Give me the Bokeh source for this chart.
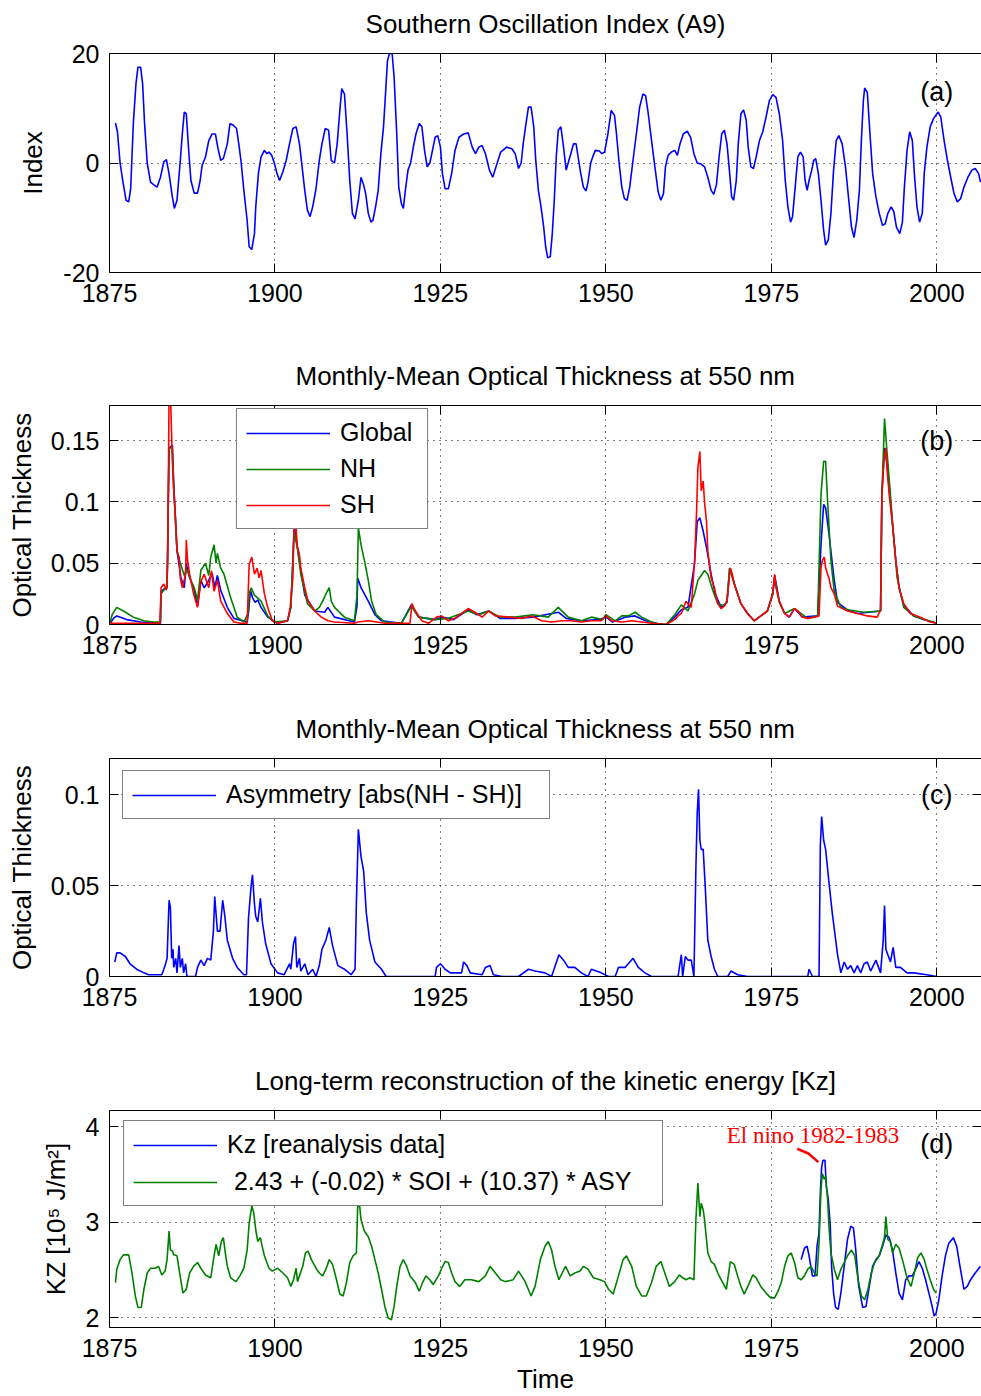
from bokeh.plotting import figure
from bokeh.layouts import column
from bokeh.models import (Range1d, LinearAxis, FixedTicker, Legend, LegendItem,
                          Label, CustomJSTickFormatter, Grid, CustomLabelingPolicy)
from bokeh.embed import file_html
from bokeh.resources import INLINE

FONT = "Liberation Sans"

# ---------------- data ----------------
X_TICKS = [1875, 1900, 1925, 1950, 1975, 2000]
X_GRID = [1900, 1925, 1950, 1975, 2000]

# (a) Southern Oscillation Index (year, index)
SOI = [
    (1875.9, 7.3), (1876.2, 5.7), (1876.6, 0.0), (1877.0, -3.2), (1877.5, -6.8),
    (1877.9, -7.1), (1878.2, -4.7), (1878.6, 7.2), (1879.0, 14.5), (1879.3, 17.5),
    (1879.7, 17.5), (1880.0, 14.5), (1880.3, 7.2), (1880.7, 0.0), (1881.2, -3.5),
    (1881.7, -4.0), (1882.2, -4.4), (1882.7, -2.6), (1883.2, 0.2), (1883.6, 0.6),
    (1884.0, -2.0), (1884.5, -6.2), (1884.8, -8.3), (1885.2, -6.8), (1885.7, 0.5),
    (1886.0, 5.3), (1886.3, 9.3), (1886.6, 9.0), (1887.0, 1.7), (1887.3, -3.2),
    (1887.8, -5.5), (1888.3, -5.5), (1888.7, -3.2), (1889.0, -0.4), (1889.5, 1.1),
    (1890.0, 4.1), (1890.5, 5.3), (1891.0, 5.3), (1891.4, 2.6), (1891.8, 0.5),
    (1892.2, 0.8), (1892.8, 3.5), (1893.2, 7.2), (1893.7, 6.9), (1894.2, 6.3),
    (1894.6, 2.9), (1894.9, 0.0), (1895.3, -5.0), (1895.8, -10.5), (1896.1, -15.3),
    (1896.5, -15.8), (1896.9, -12.9), (1897.1, -8.0), (1897.5, -1.9), (1897.9, 1.1),
    (1898.4, 2.3), (1898.8, 1.7), (1899.1, 2.0), (1899.5, 1.4), (1899.9, 0.0),
    (1900.3, -1.9), (1900.7, -3.2), (1901.2, -1.6), (1901.7, 0.5), (1902.2, 3.5),
    (1902.7, 6.3), (1903.2, 6.6), (1903.7, 3.5), (1904.1, -0.7), (1904.5, -5.0),
    (1904.9, -8.6), (1905.3, -9.8), (1905.7, -8.0), (1906.2, -4.7), (1906.7, 0.5),
    (1907.1, 3.5), (1907.6, 6.3), (1908.1, 6.0), (1908.5, 0.5), (1909.0, 0.0),
    (1909.4, 3.5), (1909.8, 9.6), (1910.1, 13.6), (1910.5, 12.6), (1910.9, 5.3),
    (1911.3, -3.2), (1911.7, -9.2), (1912.1, -10.2), (1912.6, -6.8), (1913.0, -2.6),
    (1913.4, -4.0), (1913.7, -5.6), (1914.1, -9.2), (1914.5, -10.8), (1914.8, -10.5),
    (1915.2, -8.0), (1915.6, -5.0), (1916.0, 1.7), (1916.4, 6.6), (1916.7, 12.6),
    (1917.0, 18.7), (1917.3, 20.0), (1917.7, 20.0), (1918.0, 15.7), (1918.4, 5.3),
    (1918.7, -4.4), (1919.1, -7.4), (1919.4, -8.3), (1919.7, -5.0), (1920.1, -1.3),
    (1920.5, 0.0), (1920.9, 2.9), (1921.3, 5.3), (1921.8, 7.2), (1922.2, 6.6),
    (1922.6, 2.3), (1923.0, -0.7), (1923.4, 0.0), (1923.8, 2.3), (1924.2, 4.7),
    (1924.6, 5.0), (1925.0, 2.9), (1925.3, -1.9), (1925.7, -4.7), (1926.2, -4.7),
    (1926.7, -1.9), (1927.2, 2.3), (1927.8, 4.7), (1928.5, 5.3), (1929.2, 5.5),
    (1929.8, 2.9), (1930.3, 1.7), (1930.8, 2.9), (1931.3, 3.2), (1931.8, 1.7),
    (1932.4, -1.3), (1932.9, -2.6), (1933.4, -0.7), (1934.1, 2.0), (1935.0, 2.9),
    (1935.8, 2.6), (1936.3, 1.7), (1936.8, -1.0), (1937.2, 0.0), (1937.5, 3.5),
    (1938.0, 7.8), (1938.3, 10.2), (1938.7, 10.2), (1939.1, 6.6), (1939.4, 0.5),
    (1939.8, -5.0), (1940.2, -8.0), (1940.6, -11.7), (1940.9, -15.3), (1941.2, -17.3),
    (1941.6, -17.1), (1941.9, -12.9), (1942.2, -6.8), (1942.5, 1.1), (1942.8, 6.0),
    (1943.2, 6.6), (1943.6, 2.9), (1944.0, -1.3), (1944.3, 0.0), (1944.7, 1.7),
    (1945.1, 3.5), (1945.5, 3.5), (1945.8, 1.1), (1946.2, -1.9), (1946.6, -4.4),
    (1947.0, -5.1), (1947.3, -3.5), (1947.7, 0.0), (1948.1, 1.4), (1948.4, 2.3),
    (1949.0, 2.2), (1949.4, 1.7), (1949.8, 2.0), (1950.3, 5.3), (1950.8, 9.6),
    (1951.3, 8.7), (1951.6, 5.3), (1952.0, 0.0), (1952.4, -4.4), (1952.8, -6.5),
    (1953.2, -6.8), (1953.6, -4.4), (1954.1, 0.5), (1954.6, 5.3), (1955.1, 10.2),
    (1955.6, 12.6), (1956.0, 12.3), (1956.4, 9.0), (1956.9, 4.1), (1957.4, -0.7),
    (1957.9, -5.3), (1958.3, -6.8), (1958.7, -5.6), (1959.0, -0.7), (1959.4, 1.4),
    (1959.9, 2.0), (1960.4, 2.3), (1960.8, 1.4), (1961.2, 3.5), (1961.7, 5.3),
    (1962.3, 5.8), (1962.8, 4.7), (1963.3, 1.7), (1963.8, 0.0), (1964.4, -0.2),
    (1964.9, -0.7), (1965.4, -2.6), (1965.9, -5.0), (1966.3, -5.7), (1966.7, -4.0),
    (1967.1, 1.1), (1967.5, 5.3), (1967.9, 6.0), (1968.3, 3.5), (1968.7, -1.9),
    (1969.0, -6.2), (1969.3, -6.8), (1969.7, -3.2), (1970.0, 3.5), (1970.4, 9.0),
    (1970.8, 9.7), (1971.2, 7.8), (1971.5, 2.9), (1971.9, -0.7), (1972.3, -1.0),
    (1972.7, 1.1), (1973.2, 4.1), (1973.7, 5.7), (1974.2, 8.4), (1974.7, 11.4),
    (1975.2, 12.5), (1975.7, 12.0), (1976.2, 9.0), (1976.7, 4.1), (1977.1, -3.2),
    (1977.5, -8.0), (1977.9, -10.8), (1978.2, -9.8), (1978.6, -4.4), (1979.0, 1.1),
    (1979.4, 2.0), (1979.8, 1.1), (1980.1, -3.2), (1980.4, -5.0), (1980.7, -3.2),
    (1981.1, -1.3), (1981.4, 0.5), (1981.7, 0.8), (1982.1, -1.9), (1982.5, -6.8),
    (1982.9, -12.3), (1983.2, -15.0), (1983.6, -14.1), (1984.0, -9.2), (1984.4, -1.3),
    (1984.8, 4.1), (1985.2, 5.0), (1985.7, 3.5), (1986.2, -0.7), (1986.7, -6.8),
    (1987.1, -11.7), (1987.5, -13.6), (1987.9, -10.5), (1988.3, -5.0), (1988.6, 4.1),
    (1988.9, 11.4), (1989.1, 13.7), (1989.5, 12.9), (1989.9, 5.3), (1990.3, -1.9),
    (1990.8, -6.2), (1991.3, -9.2), (1991.8, -11.4), (1992.2, -11.1), (1992.6, -9.2),
    (1993.1, -8.0), (1993.5, -8.9), (1993.9, -11.7), (1994.4, -12.9), (1994.8, -10.8),
    (1995.1, -4.4), (1995.5, 2.3), (1995.9, 5.7), (1996.3, 4.1), (1996.6, -1.9),
    (1997.0, -8.0), (1997.4, -10.8), (1997.8, -9.2), (1998.1, -1.9), (1998.5, 2.9),
    (1999.0, 6.6), (1999.5, 8.1), (2000.2, 9.3), (2000.6, 8.4), (2001.1, 4.1),
    (2001.6, 0.5), (2002.1, -2.6), (2002.6, -5.6), (2003.1, -7.1), (2003.6, -6.5),
    (2004.1, -4.4), (2004.7, -2.6), (2005.3, -1.3), (2005.8, -1.0), (2006.3, -1.9),
    (2006.6, -3.5),
]

# (b) optical thickness: Global, NH, SH (year, value)
AOT_GLOBAL = [
    (1875.0, 0.0), (1875.6, 0.005), (1876.1, 0.007), (1877.6, 0.004), (1879.7, 0.002),
    (1882.7, 0.001), (1882.8, 0.027), (1883.5, 0.03), (1883.7, 0.03), (1884.0, 0.144),
    (1884.5, 0.146), (1884.7, 0.116), (1885.2, 0.06), (1885.8, 0.038), (1886.3, 0.03),
    (1886.6, 0.05), (1887.0, 0.04), (1887.8, 0.028), (1888.3, 0.015), (1888.8, 0.036),
    (1889.3, 0.03), (1889.8, 0.034), (1890.5, 0.042), (1890.9, 0.03), (1891.3, 0.04),
    (1891.8, 0.028), (1892.8, 0.014), (1893.8, 0.005), (1895.8, 0.002), (1896.0, 0.01),
    (1896.3, 0.028), (1896.6, 0.022), (1897.0, 0.018), (1897.4, 0.02), (1897.9, 0.014),
    (1898.9, 0.006), (1900.4, 0.001), (1901.9, 0.003), (1902.4, 0.014), (1902.7, 0.052),
    (1902.9, 0.081), (1903.4, 0.062), (1904.5, 0.024), (1906.0, 0.011), (1907.5, 0.01),
    (1908.0, 0.014), (1909.0, 0.006), (1912.0, 0.002), (1912.4, 0.015), (1912.5, 0.038),
    (1913.0, 0.03), (1914.1, 0.019), (1915.1, 0.008), (1916.1, 0.003), (1919.1, 0.001),
    (1920.6, 0.016), (1921.7, 0.006), (1924.2, 0.004), (1925.2, 0.006), (1927.0, 0.004),
    (1929.2, 0.012), (1930.5, 0.008), (1932.3, 0.011), (1934.0, 0.005), (1936.3, 0.005),
    (1939.0, 0.006), (1942.8, 0.01), (1944.0, 0.005), (1946.3, 0.003), (1949.0, 0.004),
    (1950.0, 0.006), (1951.0, 0.002), (1952.9, 0.006), (1954.4, 0.007), (1956.0, 0.003),
    (1957.9, 0.0005), (1959.1, 0.0), (1960.4, 0.006), (1961.4, 0.012), (1962.4, 0.014),
    (1963.4, 0.05), (1963.8, 0.084), (1964.2, 0.087), (1964.7, 0.076), (1965.2, 0.063),
    (1965.9, 0.041), (1966.5, 0.025), (1967.4, 0.014), (1968.3, 0.018), (1968.7, 0.046),
    (1969.3, 0.035), (1970.4, 0.017), (1971.4, 0.009), (1972.4, 0.003), (1974.4, 0.011),
    (1975.2, 0.025), (1975.5, 0.04), (1976.2, 0.019), (1977.0, 0.009), (1977.7, 0.006),
    (1978.5, 0.013), (1979.7, 0.006), (1982.0, 0.007), (1982.5, 0.065), (1982.9, 0.098),
    (1983.2, 0.095), (1983.7, 0.074), (1984.5, 0.036), (1985.0, 0.018), (1986.5, 0.012),
    (1988.0, 0.009), (1991.5, 0.011), (1991.7, 0.106), (1992.1, 0.144), (1992.5, 0.13),
    (1993.3, 0.082), (1993.8, 0.052), (1994.3, 0.03), (1995.0, 0.016), (1996.5, 0.007),
    (1998.0, 0.004), (2000.0, 0.001),
]
AOT_NH = [
    (1875.0, 0.0), (1875.4, 0.008), (1876.1, 0.014), (1877.1, 0.011), (1878.6, 0.006),
    (1880.2, 0.003), (1881.7, 0.002), (1882.7, 0.002), (1882.8, 0.025), (1883.2, 0.028),
    (1883.7, 0.03), (1884.0, 0.144), (1884.5, 0.144), (1884.7, 0.111), (1885.2, 0.06),
    (1885.7, 0.05), (1886.3, 0.04), (1886.7, 0.045), (1887.3, 0.036), (1887.8, 0.03),
    (1888.3, 0.02), (1888.8, 0.044), (1889.5, 0.05), (1890.0, 0.04), (1890.3, 0.055),
    (1890.8, 0.065), (1891.1, 0.05), (1891.3, 0.058), (1891.8, 0.046), (1892.3, 0.041),
    (1893.3, 0.022), (1894.3, 0.006), (1895.3, 0.002), (1896.0, 0.01), (1896.1, 0.024),
    (1896.4, 0.03), (1896.9, 0.024), (1897.9, 0.019), (1898.9, 0.007), (1899.9, 0.002),
    (1901.9, 0.003), (1902.4, 0.014), (1902.9, 0.076), (1903.4, 0.062), (1903.9, 0.041),
    (1904.9, 0.017), (1906.0, 0.011), (1906.7, 0.014), (1907.2, 0.019), (1907.7, 0.025),
    (1908.2, 0.03), (1908.5, 0.019), (1909.0, 0.014), (1910.5, 0.006), (1912.0, 0.003),
    (1912.4, 0.024), (1912.6, 0.079), (1913.0, 0.065), (1913.6, 0.05), (1914.1, 0.036),
    (1914.6, 0.019), (1915.3, 0.008), (1916.6, 0.002), (1919.1, 0.001), (1920.6, 0.015),
    (1921.7, 0.006), (1924.2, 0.004), (1926.2, 0.005), (1929.2, 0.011), (1930.8, 0.008),
    (1932.3, 0.011), (1934.0, 0.006), (1936.3, 0.006), (1939.0, 0.008), (1941.3, 0.006),
    (1942.8, 0.014), (1944.3, 0.006), (1946.3, 0.003), (1947.8, 0.006), (1949.5, 0.004),
    (1950.0, 0.008), (1951.4, 0.003), (1952.4, 0.007), (1953.4, 0.007), (1954.4, 0.01),
    (1955.4, 0.006), (1956.9, 0.002), (1957.9, 0.0005), (1959.1, 0.0), (1960.4, 0.008),
    (1961.4, 0.016), (1962.4, 0.011), (1963.4, 0.025), (1963.9, 0.036), (1964.4, 0.04),
    (1964.9, 0.044), (1965.4, 0.041), (1966.2, 0.027), (1966.9, 0.017), (1967.9, 0.015),
    (1968.3, 0.02), (1968.7, 0.046), (1969.4, 0.033), (1970.4, 0.017), (1971.4, 0.009),
    (1972.4, 0.003), (1974.4, 0.011), (1975.2, 0.024), (1975.5, 0.038), (1976.2, 0.018),
    (1977.0, 0.009), (1978.5, 0.013), (1980.5, 0.005), (1982.0, 0.007), (1982.5, 0.106),
    (1982.9, 0.133), (1983.2, 0.133), (1983.5, 0.1), (1984.0, 0.052), (1984.5, 0.027),
    (1985.5, 0.014), (1986.5, 0.012), (1989.0, 0.01), (1991.5, 0.011), (1991.7, 0.106),
    (1992.1, 0.168), (1992.4, 0.146), (1992.8, 0.119), (1993.3, 0.084), (1994.0, 0.038),
    (1995.0, 0.014), (1996.5, 0.007), (2000.0, 0.001),
]
AOT_SH = [
    (1875.0, 0.001), (1882.6, 0.001), (1882.8, 0.03), (1883.2, 0.033), (1883.6, 0.028),
    (1883.8, 0.052), (1884.0, 0.19), (1884.2, 0.19), (1884.5, 0.133), (1884.7, 0.11),
    (1885.0, 0.084), (1885.2, 0.06), (1885.5, 0.055), (1885.7, 0.038), (1886.0, 0.03),
    (1886.5, 0.041), (1886.6, 0.069), (1886.8, 0.052), (1887.1, 0.041), (1887.3, 0.036),
    (1887.7, 0.025), (1888.3, 0.014), (1888.8, 0.035), (1889.3, 0.041), (1890.0, 0.03),
    (1890.4, 0.044), (1890.8, 0.027), (1891.3, 0.036), (1891.8, 0.019), (1892.8, 0.009),
    (1893.8, 0.002), (1894.8, 0.001), (1895.8, 0.001), (1896.1, 0.049), (1896.5, 0.055),
    (1896.9, 0.041), (1897.3, 0.046), (1897.6, 0.038), (1897.9, 0.044), (1898.4, 0.025),
    (1898.9, 0.014), (1899.6, 0.003), (1900.4, 0.001), (1901.9, 0.003), (1902.3, 0.014),
    (1902.7, 0.038), (1902.9, 0.084), (1903.2, 0.078), (1903.4, 0.063), (1903.7, 0.057),
    (1903.9, 0.046), (1904.5, 0.03), (1905.0, 0.019), (1906.0, 0.011), (1907.0, 0.006),
    (1908.0, 0.003), (1909.0, 0.002), (1912.0, 0.001), (1912.5, 0.002), (1914.1, 0.003),
    (1916.6, 0.001), (1920.4, 0.001), (1920.7, 0.017), (1921.1, 0.012), (1922.2, 0.003),
    (1923.2, 0.001), (1924.4, 0.006), (1925.2, 0.007), (1926.2, 0.003), (1927.2, 0.005),
    (1928.2, 0.009), (1929.2, 0.013), (1930.2, 0.01), (1931.3, 0.006), (1932.3, 0.011),
    (1933.3, 0.007), (1935.3, 0.006), (1937.3, 0.005), (1938.8, 0.007), (1940.3, 0.003),
    (1941.8, 0.002), (1943.3, 0.003), (1944.8, 0.003), (1946.3, 0.002), (1947.8, 0.003),
    (1949.3, 0.003), (1950.0, 0.007), (1950.9, 0.003), (1952.4, 0.002), (1953.9, 0.003),
    (1955.4, 0.002), (1956.9, 0.001), (1957.9, 0.0005), (1959.1, 0.0), (1960.4, 0.004),
    (1960.9, 0.007), (1961.4, 0.009), (1962.1, 0.019), (1962.9, 0.014), (1963.4, 0.052),
    (1963.7, 0.092), (1963.9, 0.128), (1964.2, 0.141), (1964.4, 0.109), (1964.7, 0.117),
    (1964.9, 0.1), (1965.2, 0.084), (1965.4, 0.06), (1965.7, 0.046), (1965.9, 0.038),
    (1966.4, 0.03), (1966.9, 0.017), (1967.4, 0.013), (1967.9, 0.015), (1968.3, 0.019),
    (1968.5, 0.03), (1968.8, 0.046), (1969.1, 0.041), (1969.4, 0.033), (1969.9, 0.025),
    (1970.4, 0.017), (1971.4, 0.009), (1972.4, 0.003), (1973.4, 0.007), (1974.4, 0.011),
    (1975.2, 0.025), (1975.5, 0.041), (1975.7, 0.03), (1976.2, 0.019), (1977.0, 0.009),
    (1977.7, 0.006), (1978.5, 0.013), (1979.0, 0.011), (1979.7, 0.006), (1980.5, 0.005),
    (1981.5, 0.006), (1982.2, 0.007), (1982.5, 0.046), (1982.7, 0.052), (1983.0, 0.055),
    (1983.2, 0.046), (1983.5, 0.041), (1983.7, 0.038), (1984.0, 0.03), (1984.5, 0.025),
    (1985.0, 0.015), (1986.5, 0.011), (1988.0, 0.009), (1989.5, 0.007), (1991.0, 0.006),
    (1991.5, 0.012), (1991.7, 0.106), (1992.0, 0.133), (1992.3, 0.144), (1992.5, 0.125),
    (1992.8, 0.106), (1993.3, 0.082), (1993.8, 0.052), (1994.3, 0.03), (1995.0, 0.017),
    (1996.0, 0.009), (1997.5, 0.006), (1999.0, 0.002), (2000.0, 0.001),
]

# (c) asymmetry abs(NH - SH) (year, value)
ASY = [
    (1875.8, 0.008), (1876.1, 0.013), (1876.6, 0.013), (1877.4, 0.011), (1878.1, 0.007),
    (1879.1, 0.004), (1880.2, 0.002), (1880.9, 0.001), (1882.9, 0.001), (1883.4, 0.006),
    (1883.7, 0.01), (1884.0, 0.042), (1884.2, 0.038), (1884.4, 0.01), (1884.6, 0.015),
    (1884.7, 0.005), (1885.0, 0.01), (1885.2, 0.002), (1885.5, 0.017), (1885.7, 0.005),
    (1886.0, 0.01), (1886.2, 0.002), (1886.5, 0.007), (1886.7, 0.0), (1888.0, 0.0),
    (1888.3, 0.005), (1888.8, 0.009), (1889.3, 0.006), (1889.8, 0.01), (1890.3, 0.009),
    (1890.7, 0.025), (1890.9, 0.044), (1891.3, 0.025), (1891.7, 0.025), (1892.1, 0.042),
    (1892.4, 0.034), (1892.8, 0.02), (1893.6, 0.01), (1894.3, 0.005), (1895.3, 0.001),
    (1895.7, 0.001), (1896.0, 0.032), (1896.4, 0.05), (1896.6, 0.056), (1896.9, 0.04),
    (1897.1, 0.033), (1897.4, 0.03), (1897.8, 0.043), (1898.1, 0.03), (1898.6, 0.018),
    (1899.4, 0.007), (1900.4, 0.002), (1901.4, 0.001), (1902.2, 0.007), (1902.4, 0.004),
    (1902.8, 0.018), (1903.1, 0.022), (1903.3, 0.005), (1903.7, 0.01), (1903.9, 0.003),
    (1904.5, 0.007), (1905.0, 0.001), (1905.7, 0.004), (1906.2, 0.0), (1906.7, 0.006),
    (1907.1, 0.015), (1907.7, 0.02), (1908.2, 0.027), (1908.7, 0.017), (1909.5, 0.006),
    (1910.5, 0.004), (1911.5, 0.001), (1912.1, 0.004), (1912.3, 0.04), (1912.6, 0.081),
    (1913.0, 0.066), (1913.4, 0.058), (1913.8, 0.035), (1914.3, 0.02), (1915.1, 0.008),
    (1916.1, 0.004), (1916.8, 0.0), (1924.2, 0.0), (1924.4, 0.005), (1925.0, 0.007),
    (1925.7, 0.004), (1926.5, 0.002), (1928.2, 0.002), (1928.5, 0.008), (1929.0, 0.006),
    (1929.5, 0.002), (1931.3, 0.001), (1931.8, 0.005), (1932.5, 0.006), (1933.0, 0.001),
    (1934.3, 0.0), (1936.8, 0.0), (1938.3, 0.004), (1939.3, 0.003), (1940.8, 0.002),
    (1941.8, 0.0), (1942.9, 0.012), (1943.6, 0.009), (1944.3, 0.005), (1945.3, 0.005),
    (1946.3, 0.002), (1947.3, 0.0), (1947.8, 0.004), (1949.3, 0.002), (1950.4, 0.0),
    (1951.4, 0.0), (1951.9, 0.005), (1952.9, 0.005), (1954.1, 0.01), (1954.9, 0.005),
    (1955.9, 0.002), (1956.9, 0.0), (1960.9, 0.0), (1961.4, 0.012), (1961.6, 0.0),
    (1962.0, 0.011), (1962.4, 0.009), (1962.9, 0.009), (1963.3, 0.0), (1963.6, 0.06),
    (1963.8, 0.09), (1964.0, 0.103), (1964.2, 0.075), (1964.4, 0.07), (1964.7, 0.07),
    (1965.0, 0.05), (1965.4, 0.02), (1965.9, 0.011), (1966.4, 0.004), (1966.9, 0.0),
    (1968.4, 0.0), (1968.9, 0.003), (1969.9, 0.001), (1971.4, 0.0), (1980.5, 0.0),
    (1980.7, 0.004), (1981.2, 0.0), (1982.2, 0.0), (1982.4, 0.072), (1982.6, 0.088),
    (1982.9, 0.075), (1983.2, 0.07), (1983.7, 0.052), (1984.2, 0.035), (1985.0, 0.012),
    (1985.5, 0.002), (1986.0, 0.008), (1986.5, 0.004), (1987.0, 0.006), (1987.5, 0.002),
    (1988.0, 0.006), (1988.5, 0.002), (1989.0, 0.007), (1989.5, 0.008), (1990.0, 0.003),
    (1990.8, 0.009), (1991.5, 0.002), (1991.9, 0.02), (1992.1, 0.039), (1992.3, 0.015),
    (1992.6, 0.012), (1993.0, 0.008), (1993.4, 0.016), (1993.8, 0.005), (1994.5, 0.005),
    (1995.5, 0.002), (1996.5, 0.002), (1998.5, 0.001), (2000.0, 0.0),
]

# (d) kinetic energy Kz: reconstruction (green) and reanalysis (blue)
KZ_MODEL = [
    (1875.9, 2.37), (1876.1, 2.51), (1876.6, 2.61), (1877.1, 2.66), (1877.9, 2.66),
    (1878.4, 2.47), (1878.9, 2.23), (1879.3, 2.11), (1879.8, 2.11), (1880.2, 2.30),
    (1880.7, 2.47), (1881.2, 2.52), (1881.9, 2.52), (1882.4, 2.54), (1882.9, 2.45),
    (1883.4, 2.49), (1883.7, 2.61), (1884.0, 2.91), (1884.2, 2.71), (1884.5, 2.70),
    (1884.7, 2.66), (1885.2, 2.65), (1885.6, 2.47), (1886.1, 2.26), (1886.6, 2.30),
    (1887.1, 2.47), (1887.7, 2.54), (1888.3, 2.58), (1888.8, 2.52), (1889.5, 2.45),
    (1890.3, 2.42), (1890.8, 2.65), (1891.1, 2.77), (1891.5, 2.65), (1891.9, 2.80),
    (1892.2, 2.84), (1892.5, 2.68), (1892.8, 2.54), (1893.3, 2.42), (1894.1, 2.38),
    (1894.7, 2.44), (1895.3, 2.52), (1895.8, 2.71), (1896.1, 2.99), (1896.5, 3.17),
    (1896.8, 3.10), (1897.1, 2.92), (1897.4, 2.80), (1897.8, 2.84), (1898.0, 2.77),
    (1898.4, 2.65), (1899.1, 2.52), (1899.6, 2.49), (1900.4, 2.52), (1901.2, 2.47),
    (1901.9, 2.42), (1902.4, 2.33), (1902.8, 2.40), (1903.2, 2.52), (1903.4, 2.38),
    (1903.7, 2.44), (1904.2, 2.54), (1904.6, 2.68), (1905.0, 2.70), (1905.5, 2.61),
    (1906.2, 2.52), (1906.7, 2.47), (1907.2, 2.44), (1907.7, 2.51), (1908.2, 2.61),
    (1908.7, 2.56), (1909.3, 2.40), (1909.8, 2.25), (1910.3, 2.23), (1910.8, 2.37),
    (1911.3, 2.58), (1911.8, 2.65), (1912.3, 2.68), (1912.5, 3.17), (1912.8, 3.17),
    (1913.0, 3.03), (1913.5, 2.91), (1914.1, 2.85), (1914.6, 2.75), (1915.1, 2.61),
    (1915.6, 2.47), (1916.1, 2.30), (1916.6, 2.12), (1917.1, 2.00), (1917.6, 1.98),
    (1918.0, 2.12), (1918.4, 2.33), (1918.9, 2.54), (1919.4, 2.61), (1919.9, 2.54),
    (1920.4, 2.44), (1921.2, 2.37), (1921.8, 2.28), (1922.3, 2.37), (1922.8, 2.44),
    (1923.4, 2.40), (1923.9, 2.35), (1924.7, 2.44), (1925.2, 2.52), (1925.7, 2.59),
    (1926.2, 2.58), (1926.7, 2.47), (1927.2, 2.38), (1927.9, 2.33), (1928.7, 2.40),
    (1929.7, 2.40), (1930.8, 2.38), (1931.8, 2.44), (1932.5, 2.54), (1933.3, 2.47),
    (1934.1, 2.40), (1934.8, 2.38), (1936.0, 2.40), (1936.8, 2.49), (1937.8, 2.38),
    (1938.7, 2.23), (1939.3, 2.33), (1940.1, 2.61), (1940.8, 2.75), (1941.3, 2.80),
    (1941.8, 2.71), (1942.3, 2.54), (1942.9, 2.40), (1943.4, 2.47), (1943.9, 2.54),
    (1944.6, 2.44), (1945.3, 2.47), (1946.1, 2.49), (1946.6, 2.54), (1947.3, 2.51),
    (1948.1, 2.42), (1949.1, 2.40), (1949.8, 2.38), (1950.4, 2.30), (1951.1, 2.25),
    (1951.9, 2.44), (1952.6, 2.61), (1953.1, 2.65), (1953.9, 2.54), (1954.6, 2.33),
    (1955.4, 2.23), (1956.1, 2.23), (1956.9, 2.37), (1957.6, 2.54), (1958.3, 2.59),
    (1958.9, 2.47), (1959.6, 2.33), (1960.4, 2.38), (1961.1, 2.45), (1961.6, 2.42),
    (1962.1, 2.40), (1962.7, 2.42), (1963.3, 2.40), (1963.6, 3.03), (1963.9, 3.41),
    (1964.2, 3.06), (1964.4, 3.20), (1964.7, 3.13), (1964.9, 3.03), (1965.4, 2.68),
    (1965.9, 2.59), (1966.4, 2.56), (1966.9, 2.47), (1967.4, 2.40), (1968.2, 2.30),
    (1968.8, 2.59), (1969.4, 2.56), (1969.9, 2.44), (1970.4, 2.33), (1970.9, 2.25),
    (1971.7, 2.37), (1972.2, 2.45), (1972.7, 2.42), (1973.4, 2.33), (1974.2, 2.26),
    (1974.9, 2.21), (1975.5, 2.21), (1976.0, 2.28), (1976.5, 2.37), (1977.0, 2.54),
    (1977.5, 2.65), (1978.0, 2.68), (1978.5, 2.58), (1979.0, 2.42), (1979.5, 2.40),
    (1980.0, 2.44), (1980.5, 2.51), (1981.0, 2.54), (1981.5, 2.47), (1981.9, 2.44),
    (1982.2, 2.78), (1982.5, 3.34), (1982.7, 3.51), (1983.0, 3.45), (1983.2, 3.48),
    (1983.5, 3.24), (1983.7, 2.96), (1984.0, 2.68), (1984.5, 2.51), (1985.0, 2.40),
    (1985.5, 2.51), (1986.0, 2.58), (1986.5, 2.65), (1987.1, 2.71), (1987.6, 2.65),
    (1988.1, 2.40), (1988.6, 2.23), (1989.1, 2.19), (1989.6, 2.30), (1990.1, 2.47),
    (1990.6, 2.58), (1991.3, 2.65), (1991.8, 2.77), (1992.1, 2.85), (1992.3, 3.06),
    (1992.6, 2.82), (1993.0, 2.80), (1993.3, 2.68), (1993.8, 2.77), (1994.3, 2.73),
    (1994.8, 2.61), (1995.5, 2.42), (1996.1, 2.33), (1996.6, 2.47), (1997.1, 2.63),
    (1997.6, 2.68), (1998.1, 2.61), (1998.5, 2.51), (1999.0, 2.40), (1999.5, 2.30),
    (1999.9, 2.26),
]
KZ_REANALYSIS = [
    (1979.5, 2.61), (1980.0, 2.73), (1980.4, 2.75), (1980.7, 2.65), (1981.2, 2.44),
    (1981.6, 2.44), (1981.9, 2.75), (1982.2, 2.89), (1982.4, 3.31), (1982.6, 3.58),
    (1982.8, 3.65), (1983.1, 3.65), (1983.3, 3.38), (1983.6, 3.24), (1983.9, 2.96),
    (1984.1, 2.54), (1984.4, 2.26), (1984.7, 2.11), (1985.1, 2.09), (1985.5, 2.26),
    (1986.0, 2.54), (1986.5, 2.82), (1987.0, 2.96), (1987.4, 2.94), (1987.7, 2.75),
    (1988.2, 2.33), (1988.8, 2.11), (1989.3, 2.12), (1989.8, 2.33), (1990.3, 2.54),
    (1990.8, 2.61), (1991.3, 2.65), (1991.8, 2.75), (1992.3, 2.87), (1992.8, 2.84),
    (1993.3, 2.71), (1993.8, 2.47), (1994.3, 2.26), (1994.8, 2.19), (1995.3, 2.40),
    (1995.8, 2.44), (1996.3, 2.44), (1996.8, 2.51), (1997.3, 2.59), (1997.8, 2.52),
    (1998.3, 2.40), (1998.8, 2.26), (1999.3, 2.12), (1999.6, 2.02), (1999.9, 2.05),
    (2000.3, 2.19), (2000.8, 2.44), (2001.3, 2.65), (2001.8, 2.78), (2002.5, 2.84),
    (2003.0, 2.75), (2003.5, 2.54), (2004.1, 2.30), (2004.6, 2.33), (2005.1, 2.40),
    (2005.8, 2.47), (2006.6, 2.54),
]

# annotation "El nino" pointer (year, Kz)
ARROW_X = [1978.9, 1980.6, 1982.1]
ARROW_Y = [3.77, 3.72, 3.63]


def xs(pairs):
    return [a for a, _ in pairs]


def ys(pairs):
    return [b for _, b in pairs]


X_START, X_END = 1875, 2006.75
BLUE, GREEN, RED = "#0000ff", "#008000", "#ff0000"
LW = 1.6

NO_LABELS = CustomLabelingPolicy(code="""
    for (const i of indices) {
        indices.unset(i)
    }
    return indices
""")


def make_panel(title, ylabel, y_start, y_end, y_ticks, y_grid, height, top, bottom,
               xlabel=None, ylab_standoff=11):
    p = figure(width=981, height=height,
               x_range=Range1d(X_START, X_END), y_range=Range1d(y_start, y_end),
               x_axis_type=None, y_axis_type=None,
               output_backend="svg", toolbar_location=None,
               min_border_left=109, min_border_right=0,
               min_border_top=top, min_border_bottom=bottom,
               outline_line_color=None,
               background_fill_color="white", border_fill_color="white")

    xb = LinearAxis(ticker=FixedTicker(ticks=X_TICKS),
                    major_tick_in=9, major_tick_out=0,
                    minor_tick_line_color=None,
                    axis_line_color="black", major_tick_line_color="black",
                    major_label_text_font=FONT, major_label_text_font_size="25px",
                    major_label_text_color="black", major_label_standoff=11)
    if xlabel:
        xb.axis_label = xlabel
        xb.axis_label_text_font = FONT
        xb.axis_label_text_font_size = "26px"
        xb.axis_label_text_font_style = "normal"
        xb.axis_label_text_color = "black"
        xb.axis_label_text_line_height = 1.0
        xb.axis_label_standoff = 4
    p.add_layout(xb, "below")

    xa = LinearAxis(ticker=FixedTicker(ticks=X_TICKS),
                    major_tick_in=9, major_tick_out=0,
                    minor_tick_line_color=None,
                    axis_line_color="black", major_tick_line_color="black",
                    major_label_text_font_size="0px", major_label_standoff=0,
                    major_label_policy=NO_LABELS,
                    axis_label=title, axis_label_text_font=FONT,
                    axis_label_text_font_size="26px",
                    axis_label_text_font_style="normal",
                    axis_label_text_color="black", axis_label_standoff=15)
    p.add_layout(xa, "above")

    yl = LinearAxis(ticker=FixedTicker(ticks=y_ticks),
                    formatter=CustomJSTickFormatter(code="return tick.toString()"),
                    major_tick_in=9, major_tick_out=0,
                    minor_tick_line_color=None,
                    axis_line_color="black", major_tick_line_color="black",
                    major_label_text_font=FONT, major_label_text_font_size="25px",
                    major_label_text_color="black", major_label_standoff=10,
                    axis_label=ylabel, axis_label_text_font=FONT,
                    axis_label_text_font_size="26px",
                    axis_label_text_font_style="normal",
                    axis_label_text_color="black",
                    axis_label_standoff=ylab_standoff)
    p.add_layout(yl, "left")

    yr = LinearAxis(ticker=FixedTicker(ticks=y_ticks),
                    major_tick_in=9, major_tick_out=0,
                    minor_tick_line_color=None, axis_line_color=None,
                    major_tick_line_color="black",
                    major_label_text_font_size="0px", major_label_standoff=0,
                    major_label_policy=NO_LABELS)
    p.add_layout(yr, "right")

    gx = Grid(dimension=0, ticker=FixedTicker(ticks=X_GRID),
              grid_line_color="black", grid_line_dash="1 5", grid_line_width=1)
    gy = Grid(dimension=1, ticker=FixedTicker(ticks=y_grid),
              grid_line_color="black", grid_line_dash="1 5", grid_line_width=1)
    p.add_layout(gx)
    p.add_layout(gy)
    return p


def make_legend(items, loc, spacing, label_width):
    return Legend(items=items, location=loc,
                  border_line_color="black", border_line_width=1,
                  background_fill_color="white", background_fill_alpha=1.0,
                  label_text_font=FONT, label_text_font_size="25px",
                  label_text_color="black",
                  glyph_width=84, glyph_height=24, label_height=24,
                  label_width=label_width,
                  label_standoff=10, padding=9, spacing=spacing, margin=0)


def panel_label(p, x, y, text):
    p.add_layout(Label(x=x, y=y, text=text, text_font=FONT,
                       text_font_size="27px", text_color="black",
                       text_align="center", text_baseline="middle"))


# ---------------- (a) ----------------
pa = make_panel("Southern Oscillation Index (A9)", "Index", -20, 20,
                [-20, 0, 20], [0], 352, 53, 80, ylab_standoff=12)
pa.line(xs(SOI), ys(SOI), line_color=BLUE, line_width=LW)
panel_label(pa, 2000, 12.9, "(a)")

# ---------------- (b) ----------------
pb = make_panel("Monthly-Mean Optical Thickness at 550 nm", "Optical Thickness",
                0, 0.1786, [0, 0.05, 0.1, 0.15], [0.05, 0.1, 0.15], 352, 53, 80)
rg = pb.line(xs(AOT_GLOBAL), ys(AOT_GLOBAL), line_color=BLUE, line_width=LW)
rn = pb.line(xs(AOT_NH), ys(AOT_NH), line_color=GREEN, line_width=LW)
rs = pb.line(xs(AOT_SH), ys(AOT_SH), line_color=RED, line_width=LW)
pb.add_layout(make_legend([LegendItem(label="Global", renderers=[rg]),
                           LegendItem(label="NH", renderers=[rn]),
                           LegendItem(label="SH", renderers=[rs])],
                          (127, 95), 7, 78))
panel_label(pb, 2000, 0.15, "(b)")

# ---------------- (c) ----------------
pc = make_panel("Monthly-Mean Optical Thickness at 550 nm", "Optical Thickness",
                0, 0.12, [0, 0.05, 0.1], [0.05, 0.1], 352, 54, 80)
ra = pc.line(xs(ASY), ys(ASY), line_color=BLUE, line_width=LW)
pc.add_layout(make_legend([LegendItem(label="Asymmetry [abs(NH - SH)]", renderers=[ra])],
                          (13, 157), 7, 314))
panel_label(pc, 2000, 0.1, "(c)")

# ---------------- (d) ----------------
pd_ = make_panel("Long-term reconstruction of the kinetic energy [Kz]",
                 "KZ [10\u2075 J/m\u00b2]", 1.9, 4.17, [2, 3, 4], [2, 3, 4], 340, 54, 68,
                 xlabel="Time", ylab_standoff=12)
rk = pd_.line(xs(KZ_REANALYSIS), ys(KZ_REANALYSIS), line_color=BLUE, line_width=LW)
rm = pd_.line(xs(KZ_MODEL), ys(KZ_MODEL), line_color=GREEN, line_width=LW)
pd_.add_layout(make_legend([LegendItem(label="Kz [reanalysis data]", renderers=[rk]),
                            LegendItem(label=" 2.43 + (-0.02) * SOI + (10.37) * ASY",
                                       renderers=[rm])],
                           (14, 121), 8, 426))
pd_.line(ARROW_X, ARROW_Y, line_color=RED, line_width=2.5)
pd_.add_layout(Label(x=1981.3, y=3.91, text="El nino 1982-1983",
                     text_font="Liberation Serif", text_font_size="23px",
                     text_color=RED, text_align="center", text_baseline="middle"))
panel_label(pd_, 2000, 3.82, "(d)")

layout = column(pa, pb, pc, pd_, spacing=0)
open("out.html", "w").write(file_html(layout, INLINE))
